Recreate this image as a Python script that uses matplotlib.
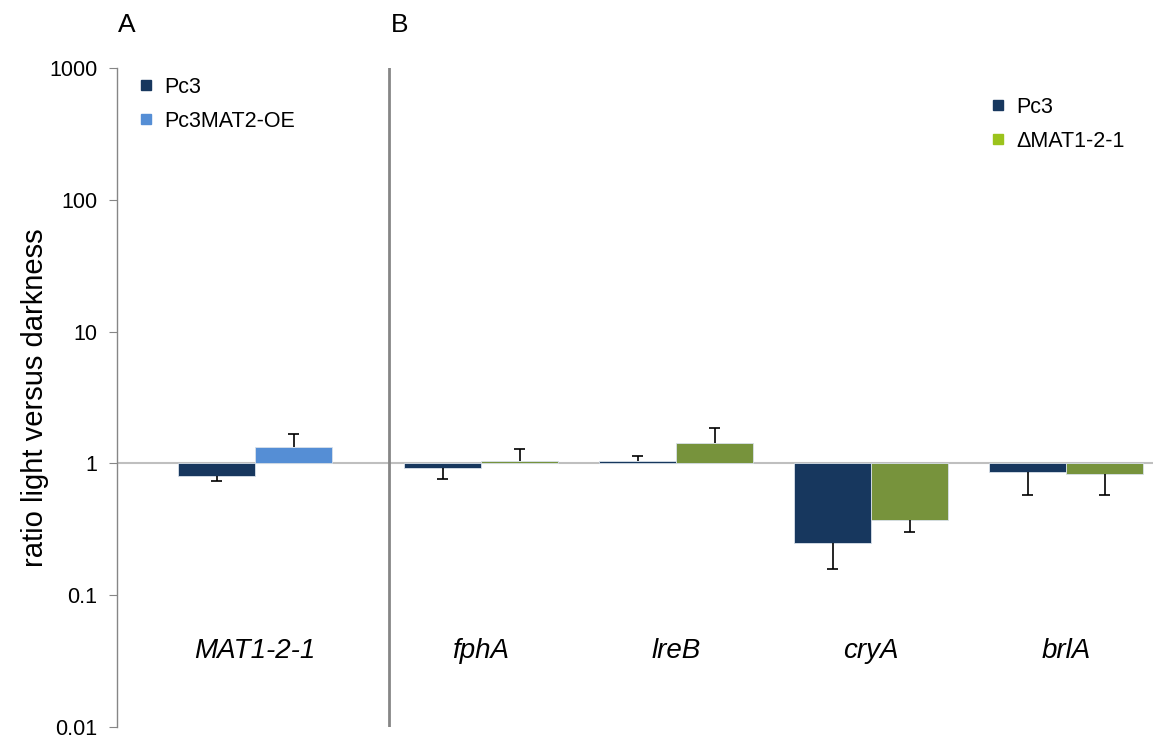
import numpy as np
import matplotlib
matplotlib.use("Agg")
import matplotlib.pyplot as plt
from matplotlib.lines import Line2D
from matplotlib.transforms import blended_transform_factory

plt.rcParams["font.family"] = ["Liberation Sans", "DejaVu Sans"]

# ── data ──
genes_a = ["MAT1-2-1"]
pc3_a = [0.80]
pc3_a_err = [0.06]          # drawn away from 1
oe_a = [1.34]
oe_a_err = [0.32]

genes_b = ["fphA", "lreB", "cryA", "brlA"]
pc3_b = [0.917, 1.04, 0.25, 0.855]
pc3_b_err = [0.16, 0.09, 0.092, 0.275]
dmat_b = [1.05, 1.42, 0.37, 0.826]
dmat_b_err = [0.23, 0.42, 0.07, 0.246]

yticks = [0.01, 0.1, 1, 10, 100, 1000]
ytick_labels = ["0.01", "0.1", "1", "10", "100", "1000"]

# ── colours ──
NAVY = "#17375E"
LBLUE = "#558ED5"
GREEN = "#77933C"
LIME = "#9BC31C"
GREY = "#868686"

W = 0.395
CAP = 0.03
pos_a = np.array([0.708])
pos_b = 1.867 + np.arange(len(genes_b))
divider = 1.395

fig = plt.figure(figsize=(11.55, 7.4), dpi=100)
ax = fig.add_axes([117 / 1155, 1 - 727 / 740, (1153 - 117) / 1155, 659 / 740])
ax.set_yscale("log")
ax.set_ylim(0.01, 1000)
ax.set_xlim(0, 5.313)

bar_kw = dict(width=W, bottom=1, edgecolor="#d9e1ea", linewidth=0.6, zorder=2)


def bars(xs, vals, errs, color):
    vals = np.asarray(vals)
    errs = np.asarray(errs)
    ax.bar(xs, vals - 1, color=color, **bar_kw)
    # one-sided error bars pointing away from the baseline
    ends = np.where(vals < 1, vals - errs, vals + errs)
    ax.vlines(xs, vals, ends, color="black", linewidth=1.2, zorder=3)
    ax.hlines(ends, xs - CAP, xs + CAP, color="black", linewidth=1.2, zorder=3)


bars(pos_a - W / 2, pc3_a, pc3_a_err, NAVY)
bars(pos_a + W / 2, oe_a, oe_a_err, LBLUE)
bars(pos_b - W / 2, pc3_b, pc3_b_err, NAVY)
bars(pos_b + W / 2, dmat_b, dmat_b_err, GREEN)

# baseline at 1 and panel divider
ax.axhline(1, color="#BFBFBF", linewidth=1.5, zorder=1)
ax.axvline(divider, color=GREY, linewidth=2, zorder=1)

# axes styling
for s in ["top", "right", "bottom"]:
    ax.spines[s].set_visible(False)
ax.spines["left"].set_color(GREY)
ax.spines["left"].set_linewidth(1)
ax.set_yticks(yticks)
ax.set_yticklabels(ytick_labels)
ax.yaxis.set_minor_locator(matplotlib.ticker.NullLocator())
ax.tick_params(axis="y", length=6, color=GREY, labelsize=15.5, pad=8)
ax.set_xticks([])
ax.set_ylabel("ratio light versus darkness", fontsize=21, labelpad=0)

# category labels
tr = blended_transform_factory(ax.transData, ax.transAxes)
for x, g in zip(np.concatenate([pos_a, pos_b]), genes_a + genes_b):
    ax.text(x, 0.115, g, transform=tr, ha="center", va="center",
            fontsize=20, style="italic")

# panel letters
fig.text(127 / 1155, 1 - 25 / 740, "A", fontsize=19, ha="center", va="center")
fig.text(400 / 1155, 1 - 25 / 740, "B", fontsize=19, ha="center", va="center")

# legends
def handle(c):
    return Line2D([], [], marker="s", color=c, linestyle="none", markersize=7)

leg_kw = dict(bbox_transform=fig.transFigure, frameon=False, fontsize=15.5,
              handlelength=0.8, handletextpad=0.45, labelspacing=0.6,
              borderpad=0, borderaxespad=0, loc="upper left")
leg_a = ax.legend([handle(NAVY), handle(LBLUE)], ["Pc3", "Pc3MAT2-OE"],
                  bbox_to_anchor=(137 / 1155, 1 - 77 / 740), **leg_kw)
ax.add_artist(leg_a)
ax.legend([handle(NAVY), handle(LIME)], ["Pc3", "\u0394MAT1-2-1"],
          bbox_to_anchor=(989 / 1155, 1 - 97 / 740), **leg_kw)

fig.savefig("out.png", dpi=100)
